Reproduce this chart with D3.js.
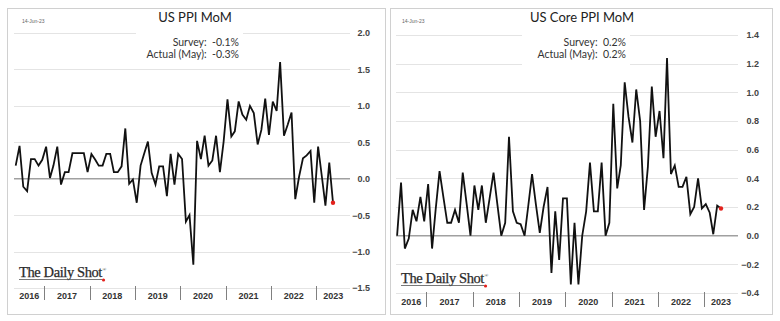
<!DOCTYPE html>
<html>
<head>
<meta charset="utf-8">
<script src="https://cdn.jsdelivr.net/npm/d3@7"></script>
<style>
  body { margin: 0; background: #fff; }
  svg { display: block; }
</style>
</head>
<body>
<div id="chart"></div>
<script>
// monthly readings, May 2016 .. May 2023
var firstMonth = "2016-05";
var yearLabels = ["2016", "2017", "2018", "2019", "2020", "2021", "2022", "2023"];

var ppiValues = [
  0.18, 0.45, -0.11, -0.17, 0.27, 0.27, 0.18, 0.26, 0.44, 0.01,
  0.18, 0.44, -0.08, 0.09, 0.09, 0.35, 0.35, 0.35, 0.35, 0.09,
  0.34, 0.26, 0.18, 0.18, 0.34, 0.34, 0.09, 0.09, 0.17, 0.69,
  -0.07, -0.01, -0.33, 0.18, 0.34, 0.51, 0.08, -0.08, 0.17, 0.17,
  -0.24, 0.34, -0.08, 0.34, 0.27, -0.59, -0.50, -1.18, 0.52, 0.27,
  0.59, 0.18, 0.25, 0.59, 0.09, 0.51, 1.09, 0.58, 0.65, 1.06,
  0.88, 0.81, 1.00, 0.90, 0.47, 0.67, 1.10, 0.60, 1.06, 0.93,
  1.60, 0.59, 0.74, 0.91, -0.28, 0.03, 0.28, 0.32, 0.38, -0.33,
  0.44, 0.02, -0.37, 0.22, -0.33
];

var corePpiValues = [
  0.00, 0.37, -0.09, -0.02, 0.18, 0.10, 0.27, 0.10, 0.36, -0.09,
  0.18, 0.45, 0.27, 0.09, 0.09, 0.18, 0.09, 0.44, 0.22, 0.00,
  0.35, 0.18, 0.35, 0.09, 0.26, 0.44, 0.22, 0.00, 0.09, 0.69,
  0.17, 0.09, 0.08, 0.00, 0.20, 0.43, 0.22, 0.02, 0.20, 0.34,
  -0.26, 0.17, -0.17, 0.26, 0.26, -0.34, 0.09, -0.34, 0.00, 0.17,
  0.51, 0.17, 0.17, 0.51, 0.00, 0.09, 0.92, 0.33, 0.49, 1.07,
  0.83, 0.65, 1.02, 0.80, 0.18, 0.48, 1.04, 0.69, 0.87, 0.54,
  1.24, 0.43, 0.49, 0.34, 0.34, 0.41, 0.15, 0.20, 0.40, 0.19,
  0.22, 0.16, 0.01, 0.21, 0.19
];

var ppiTicks = [-1.5, -1.0, -0.5, 0.0, 0.5, 1.0, 1.5, 2.0];
var coreTicks = [-0.4, -0.2, 0.0, 0.2, 0.4, 0.6, 0.8, 1.0, 1.2, 1.4];

var ppiNotes = ["Survey:  -0.1%", "Actual (May):  -0.3%"];
var coreNotes = ["Survey:  0.2%", "Actual (May):  0.2%"];

var svg = d3.select("#chart").append("svg")
  .attr("width", 780)
  .attr("height", 321);

var parseMonth = d3.timeParse("%Y-%m");
var start = d3.timeDay.offset(parseMonth(firstMonth), 14);

function drawPanel(p) {
  var g = svg.append("g");

  // frame
  g.append("rect")
    .attr("x", p.box[0] + 0.5).attr("y", 8.5)
    .attr("width", p.box[1] - p.box[0]).attr("height", 306)
    .attr("fill", "#fff")
    .attr("stroke", "#d0d0d0");

  var data = p.values.map(function(v, i) {
    return { date: d3.timeMonth.offset(start, i), value: v };
  });

  var x = d3.scaleTime()
    .domain([data[0].date, data[data.length - 1].date])
    .range([p.xFirst, p.xLast]);

  var y = d3.scaleLinear()
    .domain([p.ticks[0], p.ticks[p.ticks.length - 1]])
    .range([p.yBottom, p.yTop]);

  // gridlines
  g.append("g").selectAll("line")
    .data(p.ticks.filter(function(t) { return t !== 0; }))
    .enter().append("line")
    .attr("x1", p.gridL).attr("x2", p.gridR)
    .attr("y1", function(d) { return Math.round(y(d)) + 0.5; })
    .attr("y2", function(d) { return Math.round(y(d)) + 0.5; })
    .attr("stroke", "#e4e4e4");

  // white box behind the notes
  g.append("rect")
    .attr("x", p.noteBox[0]).attr("y", 24)
    .attr("width", p.noteBox[1] - p.noteBox[0]).attr("height", 42)
    .attr("fill", "#fff");

  // right axis labels
  var yAxis = d3.axisRight(y)
    .tickValues(p.ticks)
    .tickFormat(d3.format(".1f"))
    .tickSize(0)
    .tickPadding(0);
  var ax = g.append("g")
    .attr("transform", "translate(" + p.labelX + ",0)")
    .call(yAxis);
  ax.select(".domain").remove();
  ax.selectAll("text")
    .attr("text-anchor", "end")
    .attr("font-family", "'Liberation Sans', Arial, sans-serif")
    .attr("font-size", 9)
    .attr("font-weight", "bold")
    .attr("fill", "#444");

  // zero line
  g.append("line")
    .attr("x1", p.gridL).attr("x2", p.gridR)
    .attr("y1", y(0)).attr("y2", y(0))
    .attr("stroke", "#a0a0a0")
    .attr("stroke-width", 1.5);

  // year separators and labels
  var jans = yearLabels.map(function(yr) { return new Date(+yr, 0, 1); });
  g.append("g").selectAll("line")
    .data(jans.slice(1))
    .enter().append("line")
    .attr("x1", function(d) { return Math.round(x(d)) + 0.5; })
    .attr("x2", function(d) { return Math.round(x(d)) + 0.5; })
    .attr("y1", p.sepY[0]).attr("y2", p.sepY[1])
    .attr("stroke", "#808080");

  g.append("g").selectAll("text")
    .data(jans)
    .enter().append("text")
    .attr("x", function(d, i) {
      var a = Math.max(x(d), p.gridL);
      var b = i < jans.length - 1 ? x(jans[i + 1]) : p.gridR;
      return (a + b) / 2;
    })
    .attr("y", p.yearY)
    .attr("text-anchor", "middle")
    .attr("font-family", "'Liberation Sans', Arial, sans-serif")
    .attr("font-size", 9)
    .attr("font-weight", "bold")
    .attr("fill", "#333")
    .text(function(d, i) { return yearLabels[i]; });

  // series
  var line = d3.line()
    .x(function(d) { return x(d.date); })
    .y(function(d) { return y(d.value); });

  g.append("path")
    .datum(data)
    .attr("d", line)
    .attr("fill", "none")
    .attr("stroke", "#111")
    .attr("stroke-width", 1.8)
    .attr("stroke-linejoin", "miter");

  var last = data[data.length - 1];
  g.append("circle")
    .attr("cx", x(last.date)).attr("cy", y(last.value))
    .attr("r", 2.2)
    .attr("fill", "#e3211c");

  // texts
  g.append("text")
    .attr("x", p.dateX).attr("y", 23)
    .attr("font-family", "'Liberation Sans', Arial, sans-serif")
    .attr("font-size", 5)
    .attr("fill", "#666")
    .text("14-Jun-23");

  g.append("text")
    .attr("x", p.titleX).attr("y", 21.5)
    .attr("text-anchor", "middle")
    .attr("font-family", "Lato, 'Open Sans', sans-serif")
    .attr("font-size", 13)
    .attr("fill", "#222")
    .text(p.title);

  g.append("g").selectAll("text")
    .data(p.notes)
    .enter().append("text")
    .attr("x", p.noteX)
    .attr("y", function(d, i) { return 46 + i * 12; })
    .attr("text-anchor", "end")
    .attr("font-family", "Lato, 'Open Sans', sans-serif")
    .attr("font-size", 10.5)
    .attr("fill", "#333")
    .attr("xml:space", "preserve")
    .style("white-space", "pre")
    .text(function(d) { return d; });

  // logo
  var logo = g.append("g").attr("transform", "translate(" + p.logo[0] + "," + p.logo[1] + ")");
  var lt = logo.append("text")
    .attr("font-family", "'Liberation Serif', 'DejaVu Serif', serif")
    .attr("font-size", 14.5)
    .attr("letter-spacing", -0.4)
    .attr("stroke", "#2a2a2a")
    .attr("stroke-width", 0.25)
    .attr("fill", "#2a2a2a")
    .text("The Daily Shot");
  var w = lt.node().getComputedTextLength();
  logo.append("text")
    .attr("x", w + 0.5).attr("y", -6)
    .attr("font-family", "'Liberation Serif', serif")
    .attr("font-size", 5)
    .attr("fill", "#2a2a2a")
    .text("®");
  logo.append("line")
    .attr("x1", 0).attr("x2", w)
    .attr("y1", 2.5).attr("y2", 2.5)
    .attr("stroke", "#555")
    .attr("stroke-width", 0.8);
  logo.append("circle")
    .attr("cx", w + 1.5).attr("cy", 3)
    .attr("r", 1.6)
    .attr("fill", "#e3211c");
}

drawPanel({
  title: "US PPI MoM",
  values: ppiValues,
  ticks: ppiTicks,
  notes: ppiNotes,
  box: [7, 385],
  xFirst: 15.7, xLast: 333,
  yTop: 33, yBottom: 288,
  gridL: 14, gridR: 350,
  labelX: 370,
  noteBox: [136, 243],
  sepY: [286, 300], yearY: 299,
  dateX: 22, titleX: 195, noteX: 239,
  logo: [19, 277]
});

drawPanel({
  title: "US Core PPI MoM",
  values: corePpiValues,
  ticks: coreTicks,
  notes: coreNotes,
  box: [390, 772],
  xFirst: 397.1, xLast: 721,
  yTop: 35, yBottom: 293,
  gridL: 396, gridR: 738,
  labelX: 759,
  noteBox: [522, 630],
  sepY: [292, 307], yearY: 305,
  dateX: 402, titleX: 582, noteX: 626,
  logo: [401, 283]
});
</script>
</body>
</html>
